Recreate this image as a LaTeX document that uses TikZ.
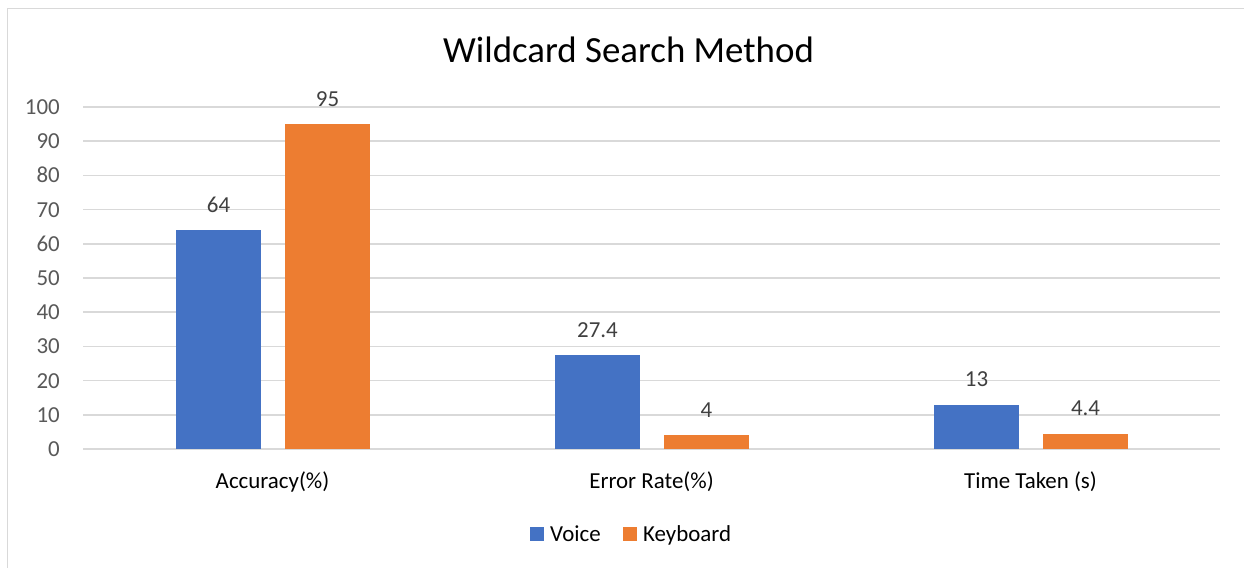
\documentclass[tikz,border=0pt]{standalone}
\usepackage{fontspec}
\setmainfont{Carlito}
\definecolor{voiceblue}{HTML}{4472C4}
\definecolor{keyorange}{HTML}{ED7D31}
\definecolor{gridgray}{HTML}{D9D9D9}
\definecolor{ticktext}{HTML}{595959}
\definecolor{datatext}{HTML}{404040}
\begin{document}
\begin{tikzpicture}[x=1bp,y=-1bp,
  gridline/.style={draw=gridgray,line width=1.5bp},
  ticklabel/.style={anchor=base east,inner sep=0pt,text=ticktext,font=\fontsize{23}{27}\selectfont},
  datalabel/.style={anchor=base,inner sep=0pt,text=datatext,font=\fontsize{23}{27}\selectfont},
  catlabel/.style={anchor=base,inner sep=0pt,text=black,font=\fontsize{23}{27}\selectfont},
  legendtext/.style={anchor=base west,inner sep=0pt,text=black,font=\fontsize{23}{27}\selectfont},
  voicebar/.style={fill=voiceblue,draw=none},
  keybar/.style={fill=keyorange,draw=none}]
\useasboundingbox (0,0) rectangle (1244,568);
\fill[white] (0,0) rectangle (1244,568);
% chart border (top and left visible)
\draw[gridgray,line width=1.5bp] (7.5,575) -- (7.5,8.5) -- (1250,8.5);
% title
\node[anchor=base,inner sep=0pt,text=black,font=\fontsize{37}{44}\selectfont] (title) at (628.5,63) {Wildcard Search Method};
% gridlines and tick labels
\foreach \v in {0,10,...,100}{
  \pgfmathsetmacro{\yy}{449-3.42*\v}
  \draw[gridline] (83,\yy) -- (1220,\yy);
  \node[ticklabel] (tick\v) at (60,\yy+7.5) {\v};
}
% bars
\def\ybase{449}
\foreach \name/\cx/\vv/\kv/\vl/\kl in {acc/272.5/64/95/64/95, err/651.5/27.4/4/27.4/4, time/1030.5/13/4.4/13/4.4}{
  \pgfmathsetmacro{\vtop}{449-3.42*\vv}
  \pgfmathsetmacro{\ktop}{449-3.42*\kv}
  \fill[voicebar] (\cx-96.5,\vtop) rectangle (\cx-11.5,449);
  \fill[keybar] (\cx+12.5,\ktop) rectangle (\cx+97.5,449);
  \node[datalabel] (\name v) at (\cx-54,\vtop-18) {\vl};
  \node[datalabel] (\name k) at (\cx+55,\ktop-18) {\kl};
}
% category labels
\node[catlabel] (catacc) at (272.5,488) {Accuracy(\%)};
\node[catlabel] (caterr) at (651.5,488) {Error Rate(\%)};
\node[catlabel] (cattime) at (1030.5,488) {Time Taken (s)};
% legend
\fill[voiceblue] (530,527) rectangle (544,541);
\node[legendtext] (legvoice) at (550,541) {Voice};
\fill[keyorange] (623,527) rectangle (637,541);
\node[legendtext] (legkey) at (643,541) {Keyboard};
\end{tikzpicture}
\end{document}
